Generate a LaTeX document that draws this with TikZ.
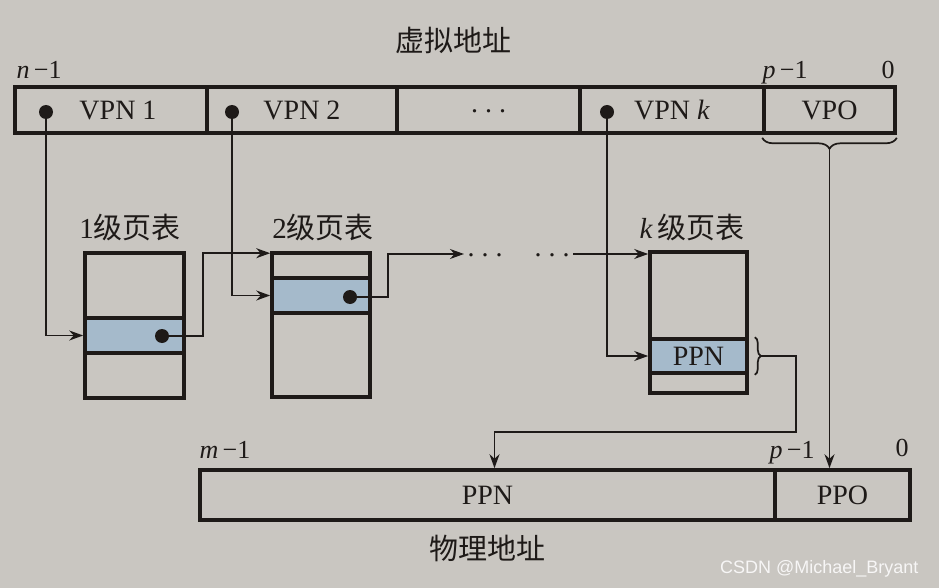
\documentclass[tikz,border=0pt]{standalone}
\usepackage{fontspec}
\setmainfont{Liberation Serif}
\setsansfont{Liberation Sans}
\newfontfamily\cjk{Noto Sans CJK SC}
\usetikzlibrary{arrows.meta,decorations.pathreplacing}
\definecolor{paper}{RGB}{201,198,193}
\definecolor{ink}{RGB}{30,26,24}
\definecolor{rowblue}{RGB}{165,186,203}
\newcommand{\gapdots}{\vphantom{VPN}\raisebox{6pt}{.~.~.}}

\begin{document}
\begin{tikzpicture}[x=1pt, y=-1pt, ink, font=\fontsize{28}{32}\selectfont,
  cell/.style={draw=ink, line width=3.6pt, inner sep=0pt, minimum height=46pt},
  ptable/.style={draw=ink, line width=3.6pt, inner sep=0pt},
  entry/.style={draw=ink, line width=3.6pt, fill=rowblue, inner sep=0pt},
  pin/.style={circle, fill=ink, inner sep=0pt, minimum size=14pt},
  arr/.style={line width=1.7pt, -{Stealth[length=14pt,width=10pt]}},
  brace/.style={line width=1.7pt, decorate, decoration={brace, amplitude=#1}},
  title/.style={font=\cjk\fontsize{29}{32}\selectfont},
  bits/.style={font=\fontsize{26}{30}\selectfont, anchor=base}]
% paper
\fill[paper] (0,0) rectangle (939,588);

% virtual address
\node[title] (va) at (453,40) {虚拟地址};
\node[cell, minimum width=192pt] (c1) at (111,110) {\hspace*{14pt}VPN 1};
\node[cell, minimum width=190pt] (c2) at (302,110) {VPN 2};
\node[cell, minimum width=183pt] (c3) at (488.5,110) {\gapdots};
\node[cell, minimum width=184pt] (ck) at (672,110) {VPN \textit{k}};
\node[cell, minimum width=131pt] (vpo) at (829.5,110) {VPO};
\node[bits, anchor=base west] (n1) at (13,79) {\textit{n}\,−1};
\node[bits] (p1) at (785,79) {\textit{p}\,−1};
\node[bits] (z1) at (888,79) {0};
\node[pin] (d1) at (46,112) {};
\node[pin] (d2) at (232,112) {};
\node[pin] (dk) at (607,112) {};

% page tables
\node[title] (l1) at (130,228) {{\rmfamily 1}级页表};
\node[title] (l2) at (323,228) {{\rmfamily 2}级页表};
\node[title] (lk) at (692,228) {{\rmfamily\itshape k}\,级页表};
\node[ptable, minimum width=99pt, minimum height=145pt] (tab1) at (134.5,325.5) {};
\node[entry, minimum width=99pt, minimum height=35pt] (row1) at (134.5,335.5) {};
\node[ptable, minimum width=98pt, minimum height=144pt] (tab2) at (321,325) {};
\node[entry, minimum width=98pt, minimum height=35pt] (row2) at (321,295.5) {};
\node[ptable, minimum width=97pt, minimum height=141pt] (tabk) at (698.5,322.5) {};
\node[entry, minimum width=97pt, minimum height=34pt] (rowk) at (698.5,356) {PPN};
\node[pin] (e1) at (162,336) {};
\node[pin] (e2) at (350,297) {};
\node (g1) at (485,254) {\gapdots};
\node (g2) at (552,254) {\gapdots};

% physical address
\node[cell, minimum width=575pt, minimum height=50pt] (ppn) at (487.5,495) {PPN};
\node[cell, minimum width=135pt, minimum height=50pt] (ppo) at (842.5,495) {PPO};
\node[bits, anchor=base west] (m1) at (196,458) {\textit{m}\,−1};
\node[bits] (p2) at (792,458) {\textit{p}\,−1};
\node[bits] (z2) at (902,456) {0};
\node[title] (pa) at (487,548) {物理地址};

% links
\draw[arr] (d1) |- (row1.west);
\draw[arr] (e1) -- ++(41,0) |- ([yshift=-2pt]tab2.north west);
\draw[arr] (d2) |- (row2.west);
\draw[arr] (e2) -- ++(38,0) |- (g1.west);
\draw[arr] (g2.east) -- (g2.east -| tabk.west);
\draw[arr] (dk) |- (rowk.west);
\draw[brace=6pt] ([xshift=6pt]rowk.north east) -- ([xshift=6pt]rowk.south east);
\coordinate (bt) at ([xshift=12pt]rowk.east);
\draw[arr] (bt) -- ++(35,0) -- ++(0,76) -| ([xshift=7pt]ppn.north);
\draw[brace=11pt] ([yshift=-3pt]vpo.south east) -- ([yshift=-3pt]vpo.south west);
\coordinate (vt) at ([yshift=-14pt]vpo.south);
\draw[arr] (vt) -- (vt |- ppo.north);

\node[font=\sffamily\fontsize{18}{20}\selectfont, text=white!85!paper, anchor=base east] (mark) at (922,573) {CSDN @Michael\_Bryant};
\end{tikzpicture}
\end{document}
